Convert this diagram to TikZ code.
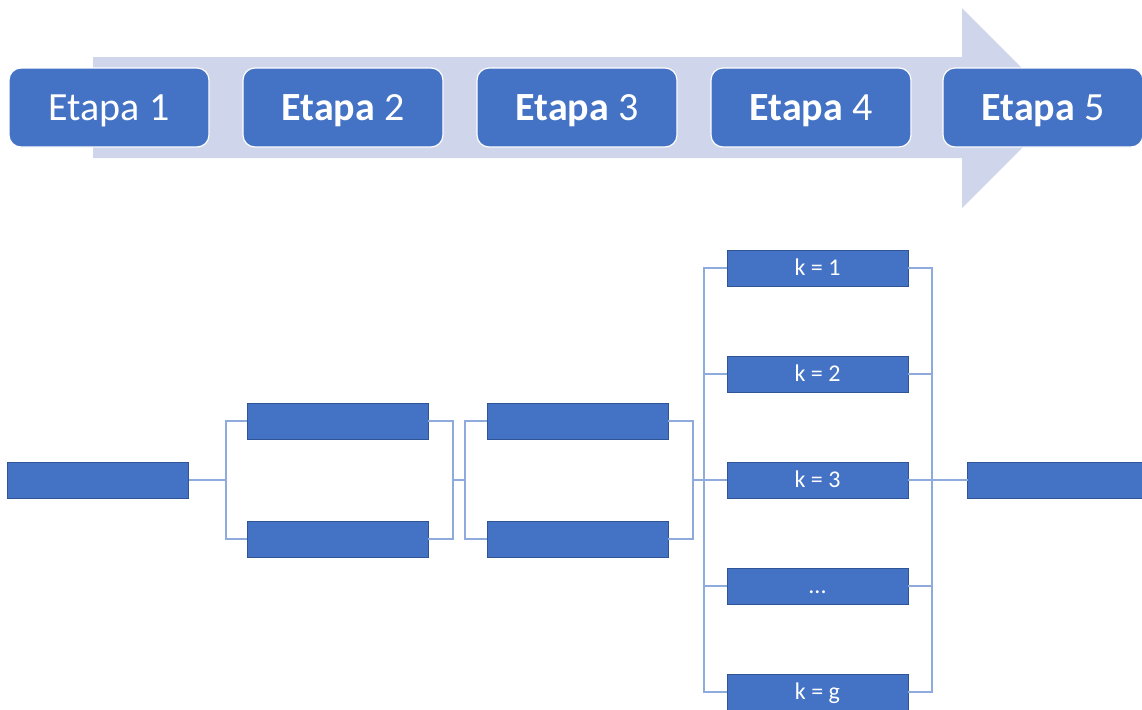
\documentclass[tikz,border=0pt]{standalone}
\usepackage{fontspec}
\setmainfont{Carlito}
\definecolor{boxblue}{HTML}{4472C4}
\definecolor{boxedge}{HTML}{2F5597}
\definecolor{arrowfill}{HTML}{CFD5EA}
\definecolor{connblue}{HTML}{8FAADC}
\begin{document}
\begin{tikzpicture}[x=0.5pt,y=-0.5pt,
  stage/.style={draw=white,line width=0.6pt,fill=boxblue,rounded corners=6pt,
    minimum width=100pt,minimum height=39.5pt,inner sep=0pt,outer sep=0pt,
    text height=12.8pt,text depth=0pt,
    text=white,font=\fontsize{20pt}{24pt}\selectfont},
  bar/.style={draw=boxedge,line width=0.5pt,fill=boxblue,
    minimum width=90.5pt,minimum height=18pt,inner sep=0pt,outer sep=0pt,
    text height=7.7pt,text depth=0pt,
    text=white,font=\fontsize{12pt}{14pt}\selectfont},
  conn/.style={draw=connblue,line width=0.7pt}]
\useasboundingbox (0,0) rectangle (1142,709);
\clip (0,0) rectangle (1142,709);
% big arrow
\fill[arrowfill] (93,57) -- (962,57) -- (962,8) -- (1062,108) -- (962,208) -- (962,158) -- (93,158) -- cycle;
% stages
\node[stage] (s1) at (109,107.5) {Etapa 1};
\node[stage] (s2) at (343,107.5) {\textbf{Etapa} 2};
\node[stage] (s3) at (577,107.5) {\textbf{Etapa} 3};
\node[stage] (s4) at (811,107.5) {\textbf{Etapa} 4};
\node[stage] (s5) at (1043,107.5) {\textbf{Etapa} 5};
% lower diagram
\node[bar] (A) at (98,480) {};
\node[bar] (B1) at (337.5,421) {};
\node[bar] (B2) at (337.5,539) {};
\node[bar] (C1) at (577.5,421) {};
\node[bar] (C2) at (577.5,539) {};
\node[bar] (D1) at (817.5,268) {k = 1};
\node[bar] (D2) at (817.5,374) {k = 2};
\node[bar] (D3) at (817.5,480) {k = 3};
\node[bar] (D4) at (817.5,586) {...};
\node[bar] (D5) at (817.5,692) {k = g};
\node[bar] (E) at (1058,480) {};
% junctions
\coordinate (j1) at (226,480);
\coordinate (j2) at (453,480);
\coordinate (j3) at (465,480);
\coordinate (j4) at (693,480);
\coordinate (j5) at (704,480);
\coordinate (j6) at (932,480);
% connectors
\draw[conn] (A.east) -- (j1);
\draw[conn] (B1.west) -- (B1.west -| j1) -- (B2.west -| j1) -- (B2.west);
\draw[conn] (B1.east) -- (B1.east -| j2) -- (B2.east -| j2) -- (B2.east);
\draw[conn] (j2) -- (j3);
\draw[conn] (C1.west) -- (C1.west -| j3) -- (C2.west -| j3) -- (C2.west);
\draw[conn] (C1.east) -- (C1.east -| j4) -- (C2.east -| j4) -- (C2.east);
\draw[conn] (j4) -- (D3.west);
\draw[conn] (D1.west) -- (D1.west -| j5) -- (D5.west -| j5) -- (D5.west);
\draw[conn] (D2.west) -- (D2.west -| j5);
\draw[conn] (D4.west) -- (D4.west -| j5);
\draw[conn] (D1.east) -- (D1.east -| j6) -- (D5.east -| j6) -- (D5.east);
\draw[conn] (D2.east) -- (D2.east -| j6);
\draw[conn] (D4.east) -- (D4.east -| j6);
\draw[conn] (D3.east) -- (E.west);
\end{tikzpicture}
\end{document}
